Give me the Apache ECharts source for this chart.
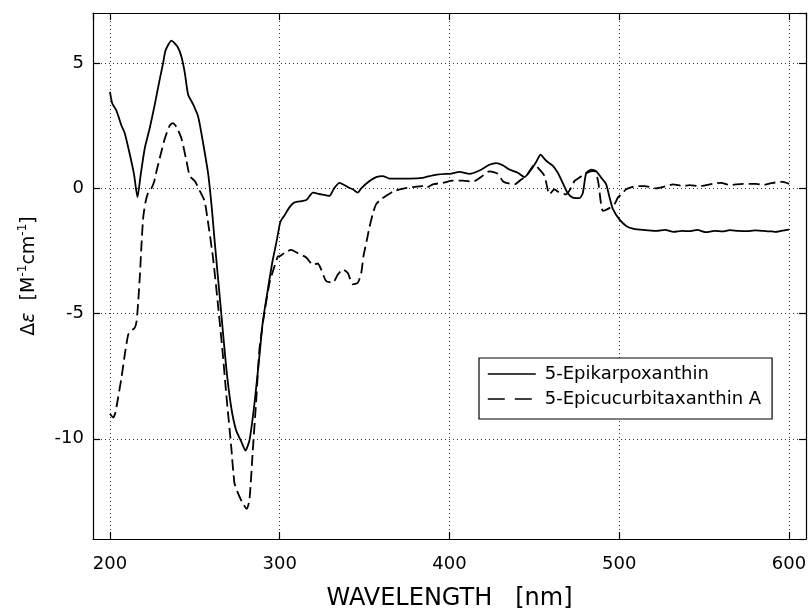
<!DOCTYPE html>
<html>
<head>
<meta charset="utf-8">
<script src="https://cdn.jsdelivr.net/npm/echarts@6/dist/echarts.min.js"></script>
<style>
html,body{margin:0;padding:0;background:#fff;}
#chart{width:810px;height:616px;}
</style>
</head>
<body>
<div id="chart"></div>
<script>
// 5-Epikarpoxanthin (solid)
const wavelengthA = [200,201.3,203.8,206.8,208.7,211.7,214.2,216.2,218.1,220.5,223.4,226.4,229.3,231.3,232.7,236.2,239.8,242.1,244.1,246,249,252,255,257.9,260,261.6,265.5,268.5,271.4,274.3,277.3,279.8,282.2,285.1,288.1,290,293,295.9,298.3,300.3,302.8,305.7,308.7,313.6,316,319.5,324.4,329.3,332,335.2,340.1,343,346,348,352.9,356.8,360.7,364.7,370.5,376.4,384.3,390.2,398,400,405.9,411.8,417.6,423.5,427.5,431.4,435.3,440.2,444.2,448.1,451,453.6,456.9,460.9,463.8,466.7,469.7,472.6,476.6,478.5,480.5,483.5,486.4,489.4,492.3,494.3,496.2,500.2,504.1,508,512,517,522,527,532,537,541,546,551,556,561,565,570,575,580,585,590,592,596,600];
const epikarpoxanthin = [3.85,3.4,3.1,2.5,2.2,1.35,0.55,-0.35,0.55,1.6,2.4,3.35,4.35,5.0,5.5,5.9,5.65,5.25,4.6,3.75,3.35,2.85,1.75,0.55,-0.8,-2.07,-4.95,-7.17,-8.74,-9.66,-10.1,-10.47,-10.05,-8.6,-6.65,-5.34,-4.03,-2.85,-2.07,-1.35,-1.08,-0.76,-0.56,-0.5,-0.45,-0.17,-0.24,-0.3,0.0,0.22,0.05,-0.04,-0.17,0.0,0.29,0.45,0.49,0.39,0.39,0.39,0.42,0.52,0.58,0.58,0.66,0.58,0.71,0.94,1.01,0.92,0.75,0.62,0.45,0.75,1.05,1.34,1.1,0.9,0.62,0.22,-0.2,-0.37,-0.39,-0.2,0.6,0.75,0.68,0.42,0.16,-0.37,-0.82,-1.25,-1.5,-1.61,-1.65,-1.68,-1.7,-1.66,-1.74,-1.7,-1.71,-1.66,-1.75,-1.7,-1.72,-1.67,-1.7,-1.71,-1.68,-1.7,-1.72,-1.74,-1.69,-1.65];

// 5-Epicucurbitaxanthin A (dashed)
const wavelengthB = [200,201.9,203.2,204.8,206.8,208.7,210.7,212.3,214.3,215.6,216.6,217.6,218.6,219.6,220.9,222.5,224.4,226,227.4,230.3,232.3,235.2,237,239.2,242.1,245.1,247,250,252.9,255.7,257.6,260.6,263.5,266.5,268.5,271.4,273.3,275.3,277.9,280.6,282.2,284.1,286.1,288.1,291,294,296.9,298.9,300.3,303.8,306.7,310.6,315.6,319.5,322.4,324.4,327.3,331.3,334.2,337.2,340.1,343,346,348,349.3,351.3,352.9,354.8,356.8,359.8,362.7,366.6,368.6,373.5,378.4,384.3,386.3,390.2,396.1,402,407.8,413.7,418.6,423.5,428.4,431.4,433.4,438.3,442.2,445.2,450.1,453,456,458.9,461.8,463.8,468.7,471.7,473.6,476,479,483,485.4,487.5,490.3,493.3,497.2,499.2,501.2,504.1,510,514.9,521.8,527.7,531.6,537.5,541.4,547.3,555.1,560,565,572.8,580.7,584.6,590.5,596.4,600];
const epicucurbitaxanthin = [-9.0,-9.15,-8.95,-8.35,-7.55,-6.65,-5.85,-5.67,-5.6,-5.34,-4.56,-3.5,-2.2,-1.15,-0.56,-0.17,0.0,0.26,0.68,1.47,1.99,2.51,2.6,2.45,1.99,1.08,0.49,0.29,-0.1,-0.5,-1.28,-2.72,-4.56,-6.65,-8.22,-10.3,-11.76,-12.15,-12.54,-12.8,-12.41,-10.5,-8.5,-6.39,-4.95,-3.77,-3.11,-2.72,-2.7,-2.53,-2.46,-2.59,-2.76,-3.05,-3.0,-3.24,-3.7,-3.77,-3.44,-3.24,-3.38,-3.83,-3.77,-3.38,-2.72,-2.07,-1.54,-1.02,-0.63,-0.43,-0.3,-0.13,-0.08,0.0,0.05,0.09,0.03,0.16,0.22,0.31,0.31,0.26,0.45,0.68,0.58,0.29,0.22,0.16,0.35,0.49,0.94,0.75,0.49,-0.24,-0.04,-0.13,-0.24,0.03,0.29,0.4,0.55,0.68,0.7,0.3,-0.9,-0.82,-0.63,-0.37,-0.24,-0.04,0.09,0.09,0.0,0.09,0.16,0.09,0.13,0.09,0.18,0.22,0.13,0.18,0.18,0.13,0.22,0.26,0.18];

const seriesNames = ['5-Epikarpoxanthin', '5-Epicucurbitaxanthin A'];
const xTickValues = [200, 300, 400, 500, 600];
const yTickValues = [-10, -5, 0, 5];

const FONT = 'DejaVu Sans';
const dataA = wavelengthA.map((x, i) => [x, epikarpoxanthin[i]]);
const dataB = wavelengthB.map((x, i) => [x, epicucurbitaxanthin[i]]);

const chart = echarts.init(document.getElementById('chart'), null, {renderer: 'canvas'});

const gridLine = {show: true, lineStyle: {color: '#333', width: 1, type: [1, 3]}};
const frameLine = {show: true, onZero: false, lineStyle: {color: '#000', width: 1.2}};
const tickIn = {show: true, inside: true, length: 7, lineStyle: {color: '#000', width: 1.2}};

chart.setOption({
  animation: false,
  backgroundColor: '#fff',
  grid: {left: 93, top: 13, width: 713, height: 534, containLabel: false},
  xAxis: [{
    type: 'value', min: 190, max: 610, position: 'bottom',
    axisLine: frameLine, axisTick: tickIn, splitLine: gridLine,
    axisLabel: {
      color: '#000', fontFamily: FONT, fontSize: 18, margin: 16,
      showMinLabel: false, showMaxLabel: false,
      formatter: v => xTickValues.includes(v) ? String(v) : ''
    },
    name: 'WAVELENGTH   [nm]', nameLocation: 'middle', nameGap: 48,
    nameTextStyle: {color: '#000', fontFamily: FONT, fontSize: 24}
  }, {
    type: 'value', min: 190, max: 610, position: 'top',
    axisLine: frameLine, axisTick: tickIn, splitLine: {show: false},
    axisLabel: {show: false}
  }],
  yAxis: [{
    type: 'value', min: -14, max: 7, position: 'left',
    axisLine: frameLine, axisTick: tickIn, splitLine: gridLine,
    axisLabel: {
      color: '#000', fontFamily: FONT, fontSize: 18, margin: 9,
      showMinLabel: false, showMaxLabel: false,
      formatter: v => yTickValues.includes(v) ? String(v) : ''
    },
    name: '{a|Δ}{e|ε}{a|  [M}{s|-1}{a|cm}{s|-1}{a|]}',
    nameLocation: 'middle', nameGap: 54, nameRotate: 90,
    nameTextStyle: {
      color: '#000', fontFamily: FONT, fontSize: 19,
      rich: {
        a: {fontFamily: FONT, fontSize: 19, color: '#000', lineHeight: 22, verticalAlign: 'bottom'},
        e: {fontFamily: FONT, fontSize: 19, fontStyle: 'italic', color: '#000', lineHeight: 22, verticalAlign: 'bottom'},
        s: {fontFamily: FONT, fontSize: 12, color: '#000', lineHeight: 22, verticalAlign: 'top'}
      }
    }
  }, {
    type: 'value', min: -14, max: 7, position: 'right',
    axisLine: frameLine, axisTick: tickIn, splitLine: {show: false},
    axisLabel: {show: false}
  }],
  legend: {
    show: true, orient: 'vertical', left: 479, top: 358,
    backgroundColor: '#fff', borderColor: '#000', borderWidth: 1.2,
    padding: [7, 11, 11, 8], itemGap: 7, itemWidth: 48, itemHeight: 14,
    itemStyle: {opacity: 0},
    textStyle: {color: '#000', fontFamily: FONT, fontSize: 18, padding: [0, 0, 0, 4]},
    data: [
      {name: seriesNames[0], itemStyle: {opacity: 0}, lineStyle: {type: 'solid', width: 1.6, color: '#000'}},
      {name: seriesNames[1], itemStyle: {opacity: 0}, lineStyle: {type: [17, 10], width: 1.6, color: '#000'}}
    ]
  },
  series: [{
    name: seriesNames[0], type: 'line', data: dataA,
    showSymbol: false, symbol: 'none', smooth: 0.2,
    lineStyle: {color: '#000', width: 1.8, type: 'solid'},
    itemStyle: {color: '#000'}, z: 3
  }, {
    name: seriesNames[1], type: 'line', data: dataB,
    showSymbol: false, symbol: 'none', smooth: 0.2,
    lineStyle: {color: '#000', width: 1.8, type: [11, 5]},
    itemStyle: {color: '#000'}, z: 3
  }]
});
</script>
</body>
</html>
